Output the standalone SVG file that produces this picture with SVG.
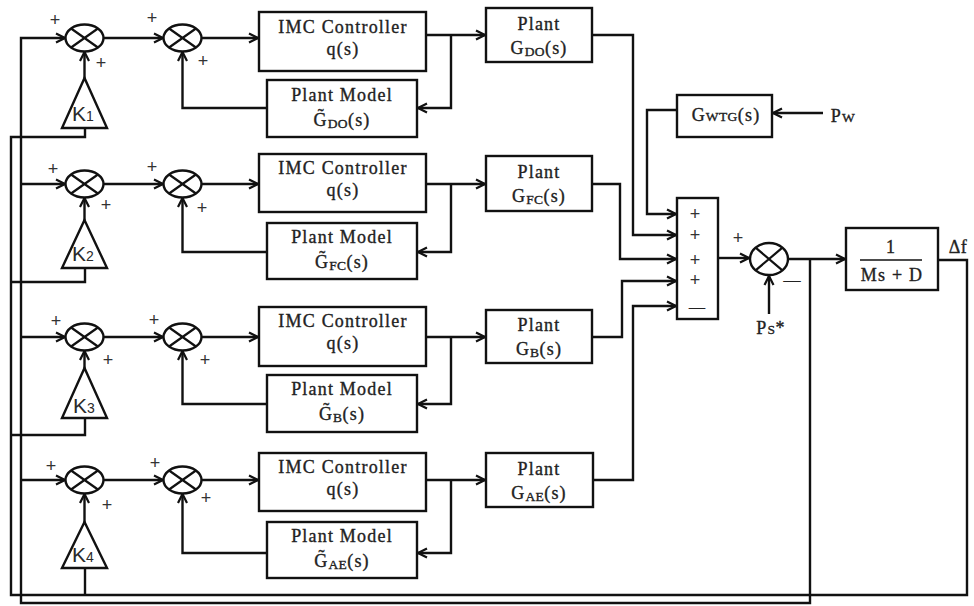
<svg xmlns="http://www.w3.org/2000/svg" xmlns:xlink="http://www.w3.org/1999/xlink" width="974" height="606" viewBox="0 0 974 606">
<style>
.bx{fill:#fff;stroke:#111;stroke-width:2.4}
.ln{fill:none;stroke:#111;stroke-width:2.4;stroke-linejoin:miter}
.ar{marker-end:url(#ah)}
.t{font-family:"Liberation Serif","Times New Roman",serif;font-size:18px;letter-spacing:1.2px;fill:#222;stroke:#222;stroke-width:0.35;text-anchor:middle}
.sub{font-size:13.5px;letter-spacing:0.4px}
.pl{font-family:"Liberation Sans",Arial,sans-serif;font-size:18px;fill:#333;text-anchor:middle}
.k{font-family:"Liberation Sans",Arial,sans-serif;font-size:21px;fill:#2a2a2a}
.ks{font-size:14px}
</style>
<defs>
<marker id="ah" markerUnits="userSpaceOnUse" markerWidth="12" markerHeight="12" viewBox="0 0 12 12" refX="11" refY="6" orient="auto">
<path d="M2,1.5 L11,6 L2,10.5" fill="none" stroke="#111" stroke-width="2.2"/>
</marker>
<g id="sj">
<ellipse cx="0" cy="0" rx="19" ry="13.5" fill="#fff" stroke="#111" stroke-width="2.4"/>
<path d="M-13.4,-9.5 L13.4,9.5 M-13.4,9.5 L13.4,-9.5" stroke="#111" stroke-width="2.2"/>
</g>
</defs>
<rect width="974" height="606" fill="#fff"/>

<g id="connectors">
<path class="ln" d="M938,260 H967 V595 H11 V137 H85 V128"/>
<path class="ln" d="M11,282 H85 V268"/>
<path class="ln" d="M11,435 H85 V418"/>
<path class="ln" d="M85,595 V568"/>
<path class="ln ar" d="M810,259 V603 H21 V38 H65"/>
<path class="ln ar" d="M21,184 H65"/>
<path class="ln ar" d="M21,337 H65"/>
<path class="ln ar" d="M21,480 H65"/>
<path class="ln ar" d="M84.5,78 V52"/>
<path class="ln ar" d="M84.5,220 V198"/>
<path class="ln ar" d="M84.5,368 V351"/>
<path class="ln ar" d="M84.5,522 V494"/>
<path class="ln ar" d="M103.5,38 H163"/>
<path class="ln ar" d="M103.5,184 H163"/>
<path class="ln ar" d="M103.5,337 H163"/>
<path class="ln ar" d="M103.5,480 H163"/>
<path class="ln ar" d="M201.5,38 H258"/>
<path class="ln ar" d="M201.5,184 H258"/>
<path class="ln ar" d="M201.5,337 H258"/>
<path class="ln ar" d="M201.5,480 H258"/>
<path class="ln ar" d="M426,35 H485"/>
<path class="ln ar" d="M426,184 H485"/>
<path class="ln ar" d="M426,337 H485"/>
<path class="ln ar" d="M426,480 H485"/>
<path class="ln ar" d="M451,35 V108 H418"/>
<path class="ln ar" d="M451,184 V252 H418"/>
<path class="ln ar" d="M451,337 V404 H418"/>
<path class="ln ar" d="M451,480 V553 H418"/>
<path class="ln ar" d="M267,108 H182.5 V52"/>
<path class="ln ar" d="M267,252 H182.5 V198"/>
<path class="ln ar" d="M267,404 H182.5 V351"/>
<path class="ln ar" d="M267,553 H182.5 V494"/>
<path class="ln ar" d="M677,110 H647 V214 H676"/>
<path class="ln ar" d="M592,35 H633 V235 H676"/>
<path class="ln ar" d="M592,184 H620 V259 H676"/>
<path class="ln ar" d="M592,337 H622 V281 H676"/>
<path class="ln ar" d="M593,480 H633 V306 H676"/>
<path class="ln ar" d="M823,113 H773"/>
<path class="ln ar" d="M718,258 H749"/>
<path class="ln ar" d="M769,314 V276"/>
<path class="ln ar" d="M788,259 H845"/>
</g>

<g id="J1a"><use xlink:href="#sj" x="84.5" y="38"/><text class="pl" x="55" y="26">+</text><text class="pl" x="101" y="69">+</text></g>
<g id="J2a"><use xlink:href="#sj" x="182.5" y="38"/><text class="pl" x="152" y="24">+</text><text class="pl" x="203" y="67">+</text></g>
<g id="K1"><polygon class="bx" points="84.5,78 62,128 107,128"/><text class="k" x="72" y="121">K<tspan class="ks">1</tspan></text></g>
<g id="IMC1"><rect class="bx" x="259" y="12" width="167" height="59"/><text class="t" x="343" y="33">IMC Controller</text><text class="t" x="343" y="55">q(s)</text></g>
<g id="Model1"><rect class="bx" x="267" y="80" width="150" height="57"/><text class="t" x="342" y="101">Plant Model</text><text class="t" x="342" y="126">G̃<tspan class="sub" dy="2">DO</tspan><tspan dy="-2">(s)</tspan></text></g>
<g id="Plant1"><rect class="bx" x="486" y="8" width="106" height="54"/><text class="t" x="539" y="30">Plant</text><text class="t" x="539" y="54">G<tspan class="sub" dy="2">DO</tspan><tspan dy="-2">(s)</tspan></text></g>

<g id="J1b"><use xlink:href="#sj" x="84.5" y="184"/><text class="pl" x="53" y="175">+</text><text class="pl" x="106" y="211">+</text></g>
<g id="J2b"><use xlink:href="#sj" x="182.5" y="184"/><text class="pl" x="152" y="173">+</text><text class="pl" x="202" y="214">+</text></g>
<g id="K2"><polygon class="bx" points="84.5,220 62,268 107,268"/><text class="k" x="72" y="261">K<tspan class="ks">2</tspan></text></g>
<g id="IMC2"><rect class="bx" x="259" y="154" width="167" height="58"/><text class="t" x="343" y="174">IMC Controller</text><text class="t" x="343" y="196">q(s)</text></g>
<g id="Model2"><rect class="bx" x="267" y="223" width="150" height="56"/><text class="t" x="342" y="243">Plant Model</text><text class="t" x="342" y="268">G̃<tspan class="sub" dy="2">FC</tspan><tspan dy="-2">(s)</tspan></text></g>
<g id="Plant2"><rect class="bx" x="486" y="156" width="106" height="55"/><text class="t" x="539" y="178">Plant</text><text class="t" x="539" y="202">G<tspan class="sub" dy="2">FC</tspan><tspan dy="-2">(s)</tspan></text></g>

<g id="J1c"><use xlink:href="#sj" x="84.5" y="337"/><text class="pl" x="56" y="327">+</text><text class="pl" x="108" y="366">+</text></g>
<g id="J2c"><use xlink:href="#sj" x="182.5" y="337"/><text class="pl" x="154" y="326">+</text><text class="pl" x="205" y="366">+</text></g>
<g id="K3"><polygon class="bx" points="84.5,368 62,418 107,418"/><text class="k" x="73" y="413">K<tspan class="ks">3</tspan></text></g>
<g id="IMC3"><rect class="bx" x="259" y="307" width="167" height="59"/><text class="t" x="343" y="327">IMC Controller</text><text class="t" x="343" y="349">q(s)</text></g>
<g id="Model3"><rect class="bx" x="267" y="375" width="150" height="57"/><text class="t" x="342" y="395">Plant Model</text><text class="t" x="342" y="420">G̃<tspan class="sub" dy="2">B</tspan><tspan dy="-2">(s)</tspan></text></g>
<g id="Plant3"><rect class="bx" x="486" y="310" width="106" height="53"/><text class="t" x="539" y="331">Plant</text><text class="t" x="539" y="355">G<tspan class="sub" dy="2">B</tspan><tspan dy="-2">(s)</tspan></text></g>

<g id="J1d"><use xlink:href="#sj" x="84.5" y="480"/><text class="pl" x="51" y="472">+</text><text class="pl" x="107" y="511">+</text></g>
<g id="J2d"><use xlink:href="#sj" x="182.5" y="480"/><text class="pl" x="155" y="469">+</text><text class="pl" x="206" y="504">+</text></g>
<g id="K4"><polygon class="bx" points="84.5,522 62,568 107,568"/><text class="k" x="72" y="562">K<tspan class="ks">4</tspan></text></g>
<g id="IMC4"><rect class="bx" x="259" y="453" width="167" height="58"/><text class="t" x="343" y="473">IMC Controller</text><text class="t" x="343" y="495">q(s)</text></g>
<g id="Model4"><rect class="bx" x="267" y="522" width="150" height="56"/><text class="t" x="342" y="542">Plant Model</text><text class="t" x="342" y="567">G̃<tspan class="sub" dy="2">AE</tspan><tspan dy="-2">(s)</tspan></text></g>
<g id="Plant4"><rect class="bx" x="486" y="453" width="107" height="54"/><text class="t" x="539" y="475">Plant</text><text class="t" x="539" y="499">G<tspan class="sub" dy="2">AE</tspan><tspan dy="-2">(s)</tspan></text></g>

<g id="GWTG"><rect class="bx" x="677" y="95" width="95" height="42"/><text class="t" x="726" y="121">G<tspan class="sub">WTG</tspan>(s)</text></g>
<g id="PW"><text class="t" x="843" y="122" font-size="20px">P<tspan class="sub" font-size="14px">W</tspan></text></g>
<g id="Sum"><rect class="bx" x="677" y="198" width="41" height="121"/>
<text class="pl" x="695" y="220">+</text><text class="pl" x="695" y="241">+</text><text class="pl" x="695" y="266">+</text><text class="pl" x="695" y="286">+</text>
<text class="t" x="697" y="312" style="font-size:16px;letter-spacing:0">—</text></g>
<g id="J3"><ellipse cx="769" cy="259" rx="19" ry="16" fill="#fff" stroke="#111" stroke-width="2.4"/><path d="M755.6,247.7 L782.4,270.3 M755.6,270.3 L782.4,247.7" stroke="#111" stroke-width="2.2"/>
<text class="pl" x="738" y="244">+</text><text class="t" x="792" y="285" style="font-size:17px;letter-spacing:0">—</text></g>
<g id="PS"><text class="t" x="771" y="334" font-size="20px">P<tspan class="sub" font-size="14px">S</tspan>*</text></g>
<g id="Plant"><rect class="bx" x="846" y="228" width="92" height="62"/><text class="t" x="891" y="253">1</text><line x1="860" y1="260" x2="922" y2="260" stroke="#111" stroke-width="1.6"/><text class="t" x="892" y="281">Ms + D</text></g>
<g id="DF"><text class="t" x="958" y="253" font-size="20px" style="letter-spacing:0.5px">Δf</text></g>
</svg>
